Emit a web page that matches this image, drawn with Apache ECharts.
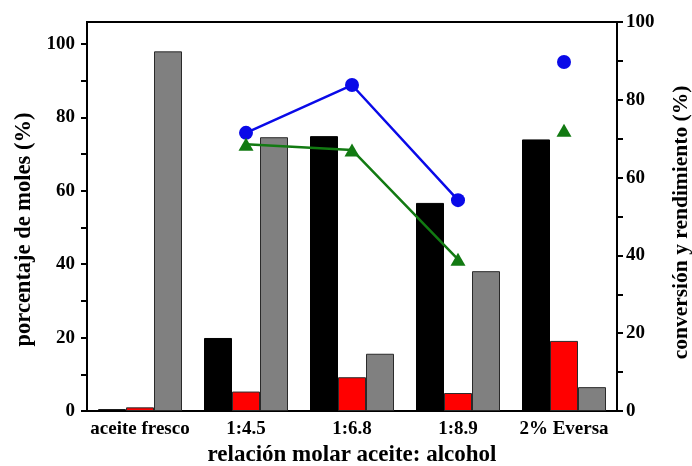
<!DOCTYPE html>
<html>
<head>
<meta charset="utf-8">
<script src="https://cdn.jsdelivr.net/npm/echarts@6/dist/echarts.min.js"></script>
<style>html,body{margin:0;padding:0;background:#fff}#c{width:692px;height:466px}</style>
</head>
<body>
<div id="c"></div>
<script>
const categories = ['aceite fresco', '1:4.5', '1:6.8', '1:8.9', '2% Eversa'];
const blackBars = [0.5, 19.9, 74.9, 56.7, 74.0];
const redBars = [1.0, 5.3, 9.2, 4.9, 19.1];
const grayBars = [98.0, 74.6, 15.6, 38.1, 6.5];
const conversionLine = [null, 71.5, 83.8, 54.2, null];
const conversionSingle = [null, null, null, null, 89.7];
const yieldLine = [null, 68.6, 67.1, 39.0, null];
const yieldSingle = [null, null, null, null, 72.2];
const leftTickValues = [0, 10, 20, 30, 40, 50, 60, 70, 80, 90, 100];
const leftLabelValues = [0, 20, 40, 60, 80, 100];
const rightTickValues = [0, 10, 20, 30, 40, 50, 60, 70, 80, 90, 100];
const rightLabelValues = [0, 20, 40, 60, 80, 100];

const FONT = "'Liberation Serif', 'Times New Roman', serif";
const labelStyle = { fontFamily: FONT, fontWeight: 'bold', fontSize: 19, color: '#000' };
const blue = '#0a0ae8';
const green = '#127a12';

const chart = echarts.init(document.getElementById('c'), null, { renderer: 'canvas' });
chart.setOption({
  animation: false,
  backgroundColor: '#fff',
  grid: { left: 87, right: 75, top: 22, bottom: 55, show: true, borderColor: '#000', borderWidth: 2,
          backgroundColor: 'transparent', containLabel: false, outerBoundsMode: 'none' },
  xAxis: {
    type: 'category',
    data: categories,
    boundaryGap: true,
    axisLine: { show: true, lineStyle: { color: '#000', width: 2 } },
    axisTick: { show: false },
    axisLabel: Object.assign({ margin: 9, interval: 0 }, labelStyle),
    name: 'relación molar aceite: alcohol',
    nameLocation: 'middle',
    nameGap: 32,
    nameTextStyle: { fontFamily: FONT, fontWeight: 'bold', fontSize: 23, color: '#000' },
    splitLine: { show: false }
  },
  yAxis: [
    {
      type: 'value',
      position: 'left',
      min: 0,
      max: 106,
      axisLine: { show: true, lineStyle: { color: '#000', width: 2 } },
      axisTick: { show: true, inside: false, length: 6, lineStyle: { color: '#000', width: 2 }, customValues: leftTickValues },
      axisLabel: Object.assign({ margin: 12, customValues: leftLabelValues }, labelStyle),
      splitLine: { show: false },
      name: 'porcentaje de moles (%)',
      nameLocation: 'middle',
      nameGap: 50,
      nameTextStyle: { fontFamily: FONT, fontWeight: 'bold', fontSize: 22.5, color: '#000', padding: [0, 26, 0, 0] }
    },
    {
      type: 'value',
      position: 'right',
      min: 0,
      max: 100,
      axisLine: { show: true, lineStyle: { color: '#000', width: 2 } },
      axisTick: { show: true, inside: false, length: 6, lineStyle: { color: '#000', width: 2 }, customValues: rightTickValues },
      axisLabel: Object.assign({ margin: 9, customValues: rightLabelValues }, labelStyle),
      splitLine: { show: false },
      name: 'conversión y rendimiento (%)',
      nameLocation: 'middle',
      nameGap: 53,
      nameRotate: 90,
      nameTextStyle: { fontFamily: FONT, fontWeight: 'bold', fontSize: 21.5, color: '#000', padding: [0, 12, 0, 0] }
    }
  ],
  series: [
    { type: 'bar', name: 'negro', data: blackBars, yAxisIndex: 0, barWidth: 28, barGap: '0%',
      itemStyle: { color: '#000', borderColor: '#000', borderWidth: 1 } },
    { type: 'bar', name: 'rojo', data: redBars, yAxisIndex: 0, barWidth: 28, barGap: '0%',
      itemStyle: { color: '#ff0000', borderColor: '#2a2a2a', borderWidth: 1 } },
    { type: 'bar', name: 'gris', data: grayBars, yAxisIndex: 0, barWidth: 28, barGap: '0%',
      itemStyle: { color: '#808080', borderColor: '#2a2a2a', borderWidth: 1 } },
    { type: 'line', name: 'conversión', data: conversionLine, yAxisIndex: 1, symbol: 'circle', symbolSize: 14,
      connectNulls: false, lineStyle: { color: blue, width: 2.5 }, itemStyle: { color: blue }, z: 5 },
    { type: 'line', name: 'conversión 2', data: conversionSingle, yAxisIndex: 1, symbol: 'circle', symbolSize: 14,
      showAllSymbol: true, lineStyle: { color: blue, width: 0 }, itemStyle: { color: blue }, z: 5 },
    { type: 'line', name: 'rendimiento', data: yieldLine, yAxisIndex: 1, symbol: 'triangle', symbolSize: [15, 13],
      connectNulls: false, lineStyle: { color: green, width: 2.5 }, itemStyle: { color: green }, z: 5 },
    { type: 'line', name: 'rendimiento 2', data: yieldSingle, yAxisIndex: 1, symbol: 'triangle', symbolSize: [15, 13],
      showAllSymbol: true, lineStyle: { color: green, width: 0 }, itemStyle: { color: green }, z: 5 }
  ]
});
</script>
</body>
</html>
